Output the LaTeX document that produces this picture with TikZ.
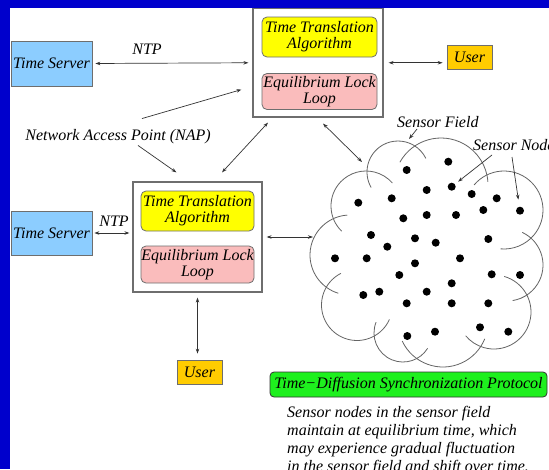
\documentclass[tikz,border=0pt]{standalone}
\usepackage{fontspec}
\setmainfont{Liberation Serif}
\usetikzlibrary{arrows.meta}
\definecolor{frameblue}{RGB}{0,0,204}
\definecolor{serverblue}{RGB}{140,205,255}
\definecolor{usergold}{RGB}{255,204,0}
\definecolor{algyellow}{RGB}{255,255,0}
\definecolor{looppink}{RGB}{250,188,188}
\definecolor{protogreen}{RGB}{30,240,30}
\definecolor{edgegray}{RGB}{110,110,110}
\definecolor{cloudgray}{RGB}{100,100,100}
\begin{document}
\begin{tikzpicture}[x=1pt,y=-1pt,
  lbl/.style={font=\fontsize{16}{16}\selectfont\itshape, inner sep=0pt},
  server/.style={lbl, draw=edgegray, line width=0.8pt, fill=serverblue,
    minimum width=81pt, minimum height=45pt},
  napbox/.style={draw=edgegray, line width=1.2pt, fill=white, inner sep=0pt},
  algo/.style={lbl, align=center, draw=edgegray, line width=0.8pt, fill=algyellow,
    rounded corners=5pt, minimum width=115pt, minimum height=40pt},
  lockloop/.style={lbl, align=center, draw=edgegray, line width=0.8pt, fill=looppink,
    rounded corners=5pt, minimum width=115pt, minimum height=36pt},
  user/.style={lbl, draw=edgegray, line width=0.8pt, fill=usergold,
    minimum width=45pt, minimum height=24pt},
  proto/.style={lbl, draw=black!80, line width=0.8pt, fill=protogreen,
    rounded corners=4pt, minimum width=277pt, minimum height=25pt},
  dot/.style={circle, fill=black, inner sep=0pt, minimum size=8pt},
  arr/.style={-{Stealth[length=5pt,width=3.5pt]}, line width=0.7pt, draw=black!80},
  darr/.style={{Stealth[length=5pt,width=3.5pt]}-{Stealth[length=5pt,width=3.5pt]},
    line width=0.7pt, draw=black!80},
  cloudline/.style={draw=cloudgray, line width=0.8pt}
]
\useasboundingbox (0,0) rectangle (549,469);
\clip (0,0) rectangle (549,469);
% slide frame
\fill[frameblue] (0,0) rectangle (549,469);
\fill[white] (10,8) rectangle (549,469);

% upper access point with its time server and user
\node[server] (ts1) at (51.5,63.5) {Time Server};
\node[napbox, minimum width=130pt, minimum height=108.5pt] (nap1) at (318,62.75) {};
\node[algo] (tta1) at (319.5,37) {Time Translation\\Algorithm};
\node[lockloop] (ell1) at (319.5,91.5) {Equilibrium Lock\\Loop};
\node[user] (user1) at (469.5,57) {User};

% lower access point with its time server and user
\node[server, minimum height=44pt] (ts2) at (51.5,233) {Time Server};
\node[napbox, minimum width=129pt, minimum height=110pt] (nap2) at (197.5,237) {};
\node[algo, minimum width=113pt] (tta2) at (197.5,211) {Time Translation\\Algorithm};
\node[lockloop, minimum width=113pt, minimum height=37pt] (ell2) at (197.5,264.5) {Equilibrium Lock\\Loop};
\node[user] (user2) at (199.5,372) {User};

% labels
\node[lbl] (ntp1) at (147,49) {NTP};
\node[lbl] (ntp2) at (114,221) {NTP};
\node[lbl] (nap) at (118,137) {Network Access Point (NAP)};
\node[lbl, anchor=base west] (sfield) at (397,127) {Sensor Field};
\node[lbl, anchor=base west] (snode) at (473,150) {Sensor Node};

% sensor field outline
\draw[cloudline] (366,206) ++(-226:35) arc[start angle=-226, end angle=-41, radius=35];
\draw[cloudline] (398,172) ++(-210:31) arc[start angle=-210, end angle=-26, radius=31];
\draw[cloudline] (441,185) ++(-151:47) arc[start angle=-151, end angle=-4, radius=47];
\draw[cloudline] (504,210) ++(-140:39) arc[start angle=-140, end angle=95, radius=39];
\draw[cloudline] (507,265) ++(-65:36) arc[start angle=-65, end angle=81, radius=36];
\draw[cloudline] (494,312) ++(-74:37) arc[start angle=-74, end angle=140, radius=37];
\draw[cloudline] (443,322) ++(-205:45) arc[start angle=-205, end angle=-338, radius=45];
\draw[cloudline] (403,333) ++(-158:29) arc[start angle=-158, end angle=-328, radius=29];
\draw[cloudline] (357,305) ++(-117:35.5) arc[start angle=-117, end angle=-336, radius=35.5];
\draw[cloudline] (350,255) ++(-94:40) arc[start angle=-94, end angle=-253, radius=40];

% sensor nodes
\foreach \p [count=\i] in {(406.7,170),(448.3,161.7),(426.7,190),(451.7,186.7),
  (471.7,194),(496.7,198.3),(358.3,202.7),(391.7,198.3),(403.3,218.3),(426.7,215),
  (456,215),(483.3,210),(520,210.7),(371,235),(387.3,246.7),(415,238.3),
  (435.7,242.7),(488.3,239),(335,258.3),(366.7,258.3),(415,263.3),(460,258.3),
  (399.3,275),(491.7,274.3),(520,275),(451.7,283.3),(363.3,295),(379.3,291.7),
  (426.7,291.7),(406.7,303.3),(451.7,303.3),(488.3,303.3),(407.3,336),(435,331.7),
  (480,327.3),(508.3,331.7)}
  \node[dot] (d\i) at \p {};

% points on the field outline
\coordinate (fieldNW) at (362,162);
\coordinate (fieldW) at (313,237);
\coordinate (fieldN) at (409,139);

% connectors
\draw[darr, shorten <=3pt, shorten >=4pt] (ts1.east) -- (nap1.west);
\draw[darr, shorten <=5pt, shorten >=4pt] (nap1.east) -- (nap1.east -| user1.west);
\draw[arr] ([shift={(24,-11)}]nap.north) -- ([shift={(-11,-28)}]nap1.south west);
\draw[arr] ([shift={(20,1)}]nap.south) -- ([shift={(44,-9)}]nap2.north west);
\draw[darr] ([shift={(-50,5)}]nap1.south) -- ([shift={(24.5,-9)}]nap2.north);
\draw[darr] ([shift={(5,6)}]nap1.south) -- (fieldNW);
\draw[darr, shorten <=2pt, shorten >=3pt] (ts2.east) -- (ts2.east -| nap2.west);
\draw[darr, shorten <=4pt] (nap2.east) -- (fieldW);
\draw[darr, shorten <=5pt, shorten >=6pt] (nap2.south) -- (nap2.south |- user2.north);
\draw[arr] ([shift={(20,2)}]sfield.base west) -- (fieldN);
\draw[arr, shorten >=4pt] ([shift={(19,5)}]snode.base west) -- (d4);
\draw[arr, shorten >=7pt] ([shift={(39,7)}]snode.base west) -- (d13);

% protocol caption
\node[proto] (tdsp) at (408.5,384.5) {Time−Diffusion Synchronization Protocol};
\node[lbl, anchor=north west, align=left, font=\fontsize{16}{17.8}\selectfont\itshape]
  (note) at (287,406.5) {Sensor nodes in the sensor field\\maintain at equilibrium time, which\\may experience gradual fluctuation\\in the sensor field and shift over time.};
\end{tikzpicture}
\end{document}
